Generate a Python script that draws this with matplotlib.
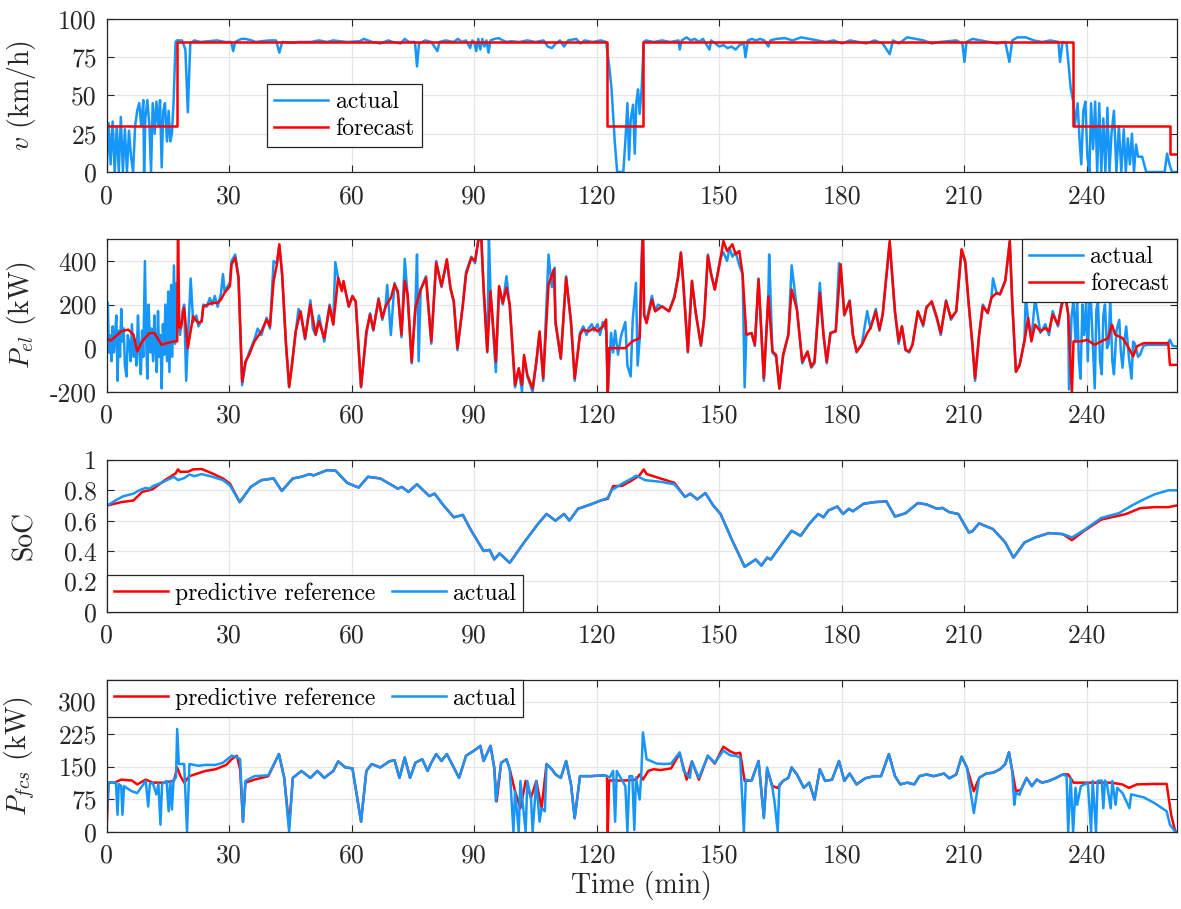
import matplotlib.pyplot as plt
import numpy as np

plt.rcParams["font.family"] = "serif"
plt.rcParams["font.serif"] = ["cmr10"]
plt.rcParams["mathtext.fontset"] = "cm"
plt.rcParams["axes.formatter.use_mathtext"] = True
plt.rcParams["font.size"] = 15

BLUE = "#1796fa"
RED = "#ff0000"
EDGE = "#262626"

# ---------------- data (time in min) ----------------
# speed forecast: step values starting at each time
v_fc_t = [0, 17.3, 122.4, 131.3, 236.6, 260.4, 262]
v_fc = [30, 85, 30, 85, 30, 12, 12]

v_act = [
    (0, 0), (0.5, 32), (1.0, 5), (1.5, 33), (2.0, 0), (2.5, 30), (3.0, 0), (3.5, 36),
    (4.0, 0), (4.5, 28), (5.0, 0), (5.5, 27), (6.0, 10), (6.5, 0), (7.0, 30), (7.5, 40),
    (8.0, 45), (8.5, 30), (9.0, 47), (9.2, 0), (9.5, 35), (10.0, 47), (10.5, 30), (10.9, 0),
    (11.3, 45), (11.8, 25), (12.2, 46), (12.7, 30), (13.1, 47), (13.5, 3), (13.9, 40),
    (14.3, 45), (14.8, 20), (15.2, 40), (15.6, 20), (16.0, 25), (16.4, 45), (16.9, 85),
    (17.2, 86), (18.5, 86), (19.3, 80), (19.9, 39), (20.5, 84), (21.5, 86), (23, 85),
    (25, 85.5), (27, 86), (29, 85), (30.5, 85), (31, 79), (31.5, 85), (33, 87), (34, 87),
    (35.5, 86), (36.5, 85), (38, 85.5), (40, 86), (41.5, 86), (42.3, 78), (43, 85),
    (45, 84.5), (47, 85), (50, 85), (52, 86), (54, 85), (55.5, 86), (57, 85.5), (59, 85),
    (62, 85.5), (63, 87), (65, 85), (67, 84), (69, 86), (70, 85), (72, 84), (73, 87),
    (74, 85), (75.5, 85), (76, 69), (76.5, 84), (78, 86), (79.5, 85), (81, 79), (81.5, 85),
    (83, 86), (85, 85), (86, 87), (87, 85), (88, 86), (89, 81), (89.5, 86), (90, 85),
    (90.5, 79), (91, 87), (91.5, 80), (92, 87), (92.5, 82), (93, 86), (93.5, 78), (94, 86),
    (95, 87), (96, 87.5), (97, 86), (98, 85), (99, 85.5), (101, 85), (103, 86), (105, 85),
    (107, 86), (108, 82), (109, 81), (110, 84), (111, 86), (112, 82), (113, 86), (115, 87),
    (116, 84), (117, 86), (119, 85), (121, 86), (122.3, 85), (123, 70), (123.6, 55),
    (124.4, 20), (125, 0), (126.5, 0), (127, 20), (127.5, 45), (127.9, 8), (128.3, 34),
    (128.9, 44), (129.3, 12), (129.7, 46), (130.1, 54), (130.5, 38), (131.0, 55),
    (131.5, 85), (132, 86), (134, 85), (136, 86), (138, 85), (140, 86), (140.3, 80),
    (140.8, 86), (142, 88), (143, 86), (144, 87), (145, 85), (146, 87), (147.6, 80),
    (148, 86), (149, 84), (150, 82), (151, 83), (152, 81), (153, 82), (154, 80), (155, 83),
    (156, 84), (156.4, 75), (157, 86), (158, 87), (159, 86), (160, 87), (161, 86),
    (162, 82), (162.5, 86), (164, 87), (166, 87.5), (168, 86), (170, 88), (172, 87),
    (174, 86), (176, 85), (178, 86), (180, 84), (182, 86), (184, 85), (186, 84), (188, 86),
    (190, 84), (191.7, 77), (192.5, 86), (194, 84), (196, 88), (198, 87), (200, 86),
    (202, 84), (204, 85), (206, 85.5), (208, 86), (209.5, 84), (210, 72), (210.5, 85),
    (212, 87), (214, 86), (216, 85), (218, 84), (220, 85), (221, 72), (221.7, 86),
    (223, 88), (225, 88), (227, 86), (229, 85), (231, 86), (233, 85), (233.4, 72),
    (234, 85), (235, 84), (235.5, 70), (236, 55), (236.7, 45), (237, 30), (237.7, 45),
    (238.2, 20), (238.6, 5), (239.1, 40), (239.6, 46), (240.1, 10), (240.6, 0), (241, 45),
    (241.5, 15), (242, 46), (242.5, 0), (243, 45), (243.5, 0), (244, 35), (244.5, 0),
    (245, 42), (245.5, 0), (246, 25), (246.6, 40), (247.2, 0), (247.8, 30), (248.4, 0),
    (249, 28), (249.5, 0), (250, 22), (250.5, 5), (251, 25), (251.5, 0), (252, 18),
    (252.5, 10), (253.5, 10), (254.5, 0), (259, 0), (259.6, 12), (260.2, 5), (260.8, 0),
    (262, 0),
]

pel_fc = [
    (0.2, 43), (1.0, 34), (3.6, 77), (5.3, 85), (6.6, 62), (7.5, -15), (8.7, 31),
    (10.5, 69), (11.7, 69), (13.5, 15), (14.7, 23), (16.5, 31), (17.3, 31), (17.5, 560),
    (17.8, 100), (18.2, 92), (19.0, 185), (19.9, 0), (21.2, 146), (22.5, 115), (23.3, 123),
    (23.7, 192), (25.9, 208), (27.2, 208), (28.0, 223), (28.9, 254), (30.2, 285),
    (30.6, 385), (31.5, 415), (32.3, 323), (33.2, -154), (34.0, -62), (34.9, -31),
    (36.2, 31), (37.9, 77), (39.2, 131), (40.0, 100), (40.9, 308), (41.7, 385), (42.3, 477),
    (43.0, 338), (43.9, 31), (44.7, -177), (45.4, -77), (46.3, 77), (47.5, 169), (48.6, 46),
    (49.9, 200), (51.2, 62), (52.0, 123), (53.3, 46), (54.6, 192), (55.5, 108), (56.7, 323),
    (57.6, 262), (58.0, 308), (59.3, 192), (60.2, 238), (61.0, 215), (62.3, -177),
    (63.6, 77), (64.5, 154), (65.3, 85), (66.6, 223), (67.5, 138), (68.3, 192), (69.6, 231),
    (70.5, 292), (71.3, 262), (72.2, 62), (73.0, 308), (73.7, 246), (74.7, -62),
    (75.6, 185), (76.9, 269), (78.2, 323), (79.5, 31), (80.7, 392), (82.0, 285), (83.3, 408),
    (84.2, 277), (85.0, 215), (85.9, 0), (87.2, 192), (88.0, 338), (89.3, 415), (90.2, 400),
    (91.0, 492), (91.7, 520), (92.3, 277), (93.2, -15), (94.0, 262), (95.3, -62),
    (96.1, 285), (97.0, 208), (97.9, 277), (98.7, 200), (100.0, -169), (100.9, -92),
    (101.7, -169), (102.2, -31), (103.0, -123), (104.3, -185), (105.2, -62), (106.0, 77),
    (106.9, -138), (108.2, 292), (109.5, 362), (109.9, 123), (111.2, -46), (112.5, 323),
    (113.7, 123), (114.6, -138), (115.9, 62), (116.7, 85), (118.0, 77), (119.3, 92),
    (120.2, 77), (121.5, 100), (122.3, 131), (122.7, -210), (123.0, 0), (127.0, 0),
    (128.7, 31), (130.5, 46), (131.3, 560), (131.6, 150), (132.2, 115), (133.5, 223),
    (134.3, 169), (136.0, 192), (137.7, 169), (139.0, 231), (139.9, 323), (140.6, 438),
    (141.2, 292), (142.3, -15), (143.3, 308), (144.2, 169), (145.5, 15), (146.3, 138),
    (147.2, 423), (148.0, 338), (148.9, 269), (150.2, 400), (151.0, 492), (151.9, 446),
    (153.2, 477), (154.0, 431), (154.9, 446), (155.7, 338), (156.6, 62), (157.9, 69),
    (158.7, 15), (159.6, 315), (160.9, -138), (162.0, 238), (163.0, -15), (163.9, -31),
    (164.7, -185), (165.6, -31), (166.9, 62), (167.7, 269), (169.0, 177), (170.3, -62),
    (171.6, -15), (172.5, -85), (173.3, -62), (174.6, 254), (175.5, 62), (176.3, -62),
    (177.2, 69), (178.5, 77), (179.7, 385), (180.6, 154), (181.9, 215), (182.7, 62),
    (183.6, -15), (184.9, 15), (186.2, 69), (187.0, 92), (188.3, 169), (189.2, 85),
    (190.0, 154), (191.7, 492), (193.0, 169), (193.9, 31), (194.7, 100), (195.6, -8),
    (196.5, -15), (197.3, 15), (198.6, 169), (199.9, 108), (200.7, 185), (202.0, 215),
    (203.3, 138), (204.2, 69), (205.5, 215), (206.7, 138), (208.0, 169), (209.3, 454),
    (210.2, 400), (211.0, 215), (211.9, 31), (212.6, -138), (213.6, 62), (214.5, 192),
    (215.7, 162), (216.6, 231), (217.9, 254), (218.7, 246), (220.0, 308), (221.1, 492),
    (221.7, 215), (222.6, -108), (223.5, -77), (224.7, 31), (225.6, 138), (226.4, 31),
    (227.3, 108), (228.6, 77), (229.8, 92), (230.7, 77), (231.6, 154), (232.9, 108),
    (233.7, 185), (234.6, 254), (235.4, 154), (236.3, -205), (236.7, 31), (238.4, 31),
    (240.1, 38), (241.8, 15), (243.5, 31), (245.2, 46), (246.1, 108), (246.9, 62),
    (248.7, 46), (250.0, 8), (251.3, -38), (252.2, 8), (253.9, 23), (256.5, 23),
    (259.9, 23), (260.3, -77), (262.0, -77),
]

pel_act = [
    (0.0, 40), (0.3, 210), (0.6, -20), (0.9, 60), (1.2, -60), (1.5, 100), (1.8, -20),
    (2.1, 70), (2.4, 150), (2.7, -150), (3.0, 80), (3.3, -40), (3.6, 180), (3.9, 30),
    (4.2, 90), (4.5, -80), (4.9, -130), (5.2, 60), (5.6, 20), (5.9, -60), (6.2, 110),
    (6.6, -40), (7.0, 40), (7.3, -80), (7.7, 150), (8.0, -10), (8.4, -120), (8.7, 80),
    (9.0, -40), (9.4, 400), (9.7, 40), (10.0, -140), (10.3, 200), (10.7, -20), (11.0, 90),
    (11.4, -60), (11.7, 150), (12.0, 0), (12.3, -110), (12.6, 170), (12.9, -40), (13.2, 60),
    (13.5, -185), (13.8, 110), (14.1, -30), (14.4, 200), (14.8, -60), (15.1, 260),
    (15.4, -110), (15.8, 290), (16.1, -40), (16.5, 380), (16.8, 20), (17.2, 300),
    (17.6, 120), (18.0, 60), (18.6, 170), (19.0, 200), (19.5, -150), (19.9, 30),
    (20.6, 320), (21.2, 120), (22.0, 150), (22.5, 100), (23.3, 130), (23.7, 200),
    (24.5, 190), (25.3, 230), (25.9, 200), (26.5, 240), (27.2, 190), (28.0, 250),
    (28.5, 340), (28.9, 260), (29.5, 280), (30.2, 300), (30.6, 400), (31.5, 430),
    (32.3, 330), (33.2, -170), (34.0, -70), (34.9, -20), (36.2, 40), (37.0, 90), (37.9, 60),
    (39.2, 140), (40.0, 90), (40.9, 400), (41.7, 390), (42.3, 470), (43.0, 330), (43.9, 20),
    (44.7, -180), (45.4, -70), (46.3, 70), (47.0, 180), (47.5, 160), (48.6, 40), (49.9, 220),
    (50.5, 90), (51.2, 60), (52.0, 150), (53.3, 30), (54.6, 200), (55.5, 110), (56.0, 395),
    (56.7, 320), (57.6, 270), (58.0, 300), (59.3, 190), (60.2, 240), (61.0, 210),
    (62.3, -180), (63.6, 60), (64.5, 160), (65.3, 80), (66.6, 230), (67.5, 130), (68.3, 190),
    (68.7, 290), (69.6, 60), (70.5, 300), (71.3, 250), (72.2, 50), (73.0, 410), (73.7, 240),
    (74.7, -70), (75.6, 190), (76.0, 430), (76.4, -60), (76.9, 270), (78.2, 330), (79.5, 20),
    (80.7, 400), (82.0, 280), (83.3, 400), (84.2, 270), (85.0, 210), (85.9, -10),
    (87.2, 200), (88.0, 350), (89.3, 420), (90.2, 390), (91.0, 500), (91.7, 530),
    (92.3, 270), (93.2, -20), (93.6, 520), (94.0, 250), (95.3, -110), (96.1, 280),
    (97.0, 200), (97.9, 330), (98.7, 190), (100.0, -180), (100.9, -100), (101.7, -200),
    (102.2, -40), (103.0, -130), (104.3, -200), (105.2, -70), (106.0, 70), (106.9, -150),
    (108.2, 430), (109.0, 280), (109.7, 370), (109.9, 110), (111.2, -50), (112.5, 330),
    (113.7, 110), (114.6, -150), (115.9, 70), (116.7, 100), (117.5, 60), (118.0, 90),
    (118.8, 110), (119.3, 80), (120.2, 110), (120.8, 60), (121.5, 120), (122.3, 80),
    (122.7, -210), (123.5, 70), (124.0, -20), (124.5, 80), (125.2, -30), (126.0, 60),
    (127.0, 120), (127.5, -80), (128.3, -130), (128.8, 130), (129.6, 300), (130.0, -80),
    (130.5, 40), (130.9, 380), (131.3, 560), (131.6, 150), (132.2, 130), (133.5, 240),
    (134.3, 170), (135.0, 200), (136.0, 190), (137.7, 170), (139.0, 240), (139.9, 330),
    (140.6, 440), (141.2, 300), (142.3, -20), (143.3, 310), (144.2, 160), (145.5, 10),
    (146.3, 140), (147.2, 430), (148.0, 340), (148.9, 270), (150.2, 410), (151.0, 440),
    (151.9, 400), (152.5, 460), (153.2, 420), (154.0, 440), (154.9, 380), (155.7, 340),
    (156.2, -180), (156.6, 60), (157.9, 70), (158.7, 10), (159.6, 320), (160.9, -150),
    (162.0, 240), (162.2, 430), (163.0, -20), (163.9, -40), (164.7, -185), (165.6, -40),
    (166.9, 60), (167.7, 380), (169.0, 180), (170.3, -70), (171.6, -20), (172.5, -90),
    (173.3, -70), (174.6, 300), (175.5, 60), (176.3, -70), (177.2, 70), (178.5, 80),
    (179.3, 390), (179.7, 370), (180.6, 150), (181.9, 220), (182.7, 60), (183.6, -20),
    (184.9, 20), (186.2, 170), (187.0, 90), (188.3, 180), (189.2, 80), (190.0, 160),
    (191.7, 480), (193.0, 160), (193.9, 20), (194.7, 100), (195.6, -10), (196.5, -20),
    (197.3, 20), (198.6, 170), (199.9, 100), (200.7, 190), (202.0, 210), (203.3, 130),
    (204.2, 60), (205.5, 220), (206.7, 130), (208.0, 170), (209.3, 450), (210.2, 390),
    (211.0, 210), (211.9, 20), (212.6, -150), (213.6, 60), (214.5, 200), (215.7, 160),
    (216.6, 230), (217.0, 320), (217.9, 250), (218.7, 250), (220.0, 310), (221.1, 490),
    (221.7, 210), (222.6, -110), (223.5, -80), (224.7, 40), (225.0, 240), (225.6, 130),
    (226.4, 40), (227.3, 230), (228.6, 70), (229.8, 110), (230.7, 60), (231.6, 170),
    (232.9, 100), (233.7, 200), (234.6, 260), (235.4, 160), (235.6, -190), (236.2, 140),
    (236.7, 220), (237.2, 30), (237.6, 220), (238.0, -50), (238.4, -140), (238.9, 200),
    (239.3, 60), (239.8, 210), (240.2, -60), (240.6, 220), (241.0, 200), (241.5, -20),
    (241.9, -185), (242.3, 180), (242.7, 210), (243.2, -60), (243.6, -120), (244.0, 150),
    (244.4, 200), (244.9, 0), (245.3, 20), (245.7, 220), (246.2, -60), (246.6, -120),
    (247.2, 80), (247.9, 130), (248.3, -20), (248.7, -90), (249.2, 40), (249.6, 100),
    (250.3, -50), (250.9, -140), (251.3, 30), (251.7, 20), (252.5, -40), (253.0, -30),
    (253.8, 10), (254.7, 15), (256.0, 15), (258.0, 15), (259.5, 15), (260.3, 38),
    (261.0, 10), (262.0, 8),
]

# SoC: stretches where reference and actual coincide are shared
soc_mid1 = [
    (35.3, 0.822), (37.9, 0.867), (40.9, 0.878), (42.9, 0.796), (45.6, 0.878), (47.7, 0.889),
    (49.7, 0.907), (50.7, 0.898), (54.0, 0.933), (56.1, 0.929), (58.9, 0.849), (61.7, 0.818),
    (64.0, 0.889), (67.0, 0.878), (69.2, 0.844), (71.3, 0.811), (72.3, 0.822), (73.9, 0.789),
    (76.0, 0.84), (79.0, 0.762), (80.3, 0.778), (82.5, 0.70), (85.0, 0.622), (87.2, 0.638),
    (89.3, 0.533), (92.3, 0.40), (93.8, 0.407), (94.9, 0.344), (96.2, 0.384), (98.7, 0.322),
    (102.2, 0.456), (105.6, 0.578), (107.7, 0.644), (109.9, 0.60), (112.0, 0.644),
    (113.3, 0.60), (115.4, 0.678), (118.5, 0.707), (121.0, 0.733),
]
soc_mid2 = [
    (141.6, 0.756), (142.9, 0.778), (144.6, 0.74), (146.6, 0.782), (148.5, 0.70),
    (150.3, 0.644), (153.2, 0.467), (156.2, 0.296), (158.9, 0.344), (160.3, 0.304),
    (161.7, 0.356), (162.6, 0.344), (165.6, 0.456), (167.7, 0.533), (169.9, 0.50),
    (172.0, 0.578), (174.2, 0.644), (175.5, 0.622), (176.7, 0.667), (178.9, 0.693),
    (180.3, 0.644), (181.7, 0.678), (182.7, 0.662), (185.3, 0.711), (187.9, 0.722),
    (190.9, 0.727), (193.0, 0.627), (195.6, 0.649), (198.6, 0.716), (200.7, 0.707),
    (203.3, 0.678), (204.6, 0.684), (206.3, 0.656), (208.5, 0.644), (211.1, 0.522),
    (211.9, 0.529), (213.6, 0.582), (217.0, 0.544), (220.0, 0.456), (222.0, 0.356),
    (224.7, 0.456), (227.3, 0.489), (230.7, 0.518), (234.1, 0.511),
]
soc_ref_a = [
    (0.2, 0.70), (3.6, 0.722), (6.6, 0.733), (8.7, 0.789), (11.3, 0.807), (14.3, 0.867),
    (16.9, 0.911), (17.5, 0.938), (18.0, 0.922), (19.9, 0.922), (21.2, 0.938), (23.3, 0.94),
    (25.9, 0.911), (28.5, 0.878), (30.2, 0.844), (32.6, 0.722),
]
soc_ref_b = [
    (122.7, 0.744), (124.0, 0.827), (126.2, 0.829), (128.7, 0.867), (130.5, 0.90),
    (131.5, 0.938), (132.2, 0.907), (135.6, 0.878), (139.0, 0.849),
]
soc_ref_c = [
    (236.3, 0.471), (239.3, 0.533), (243.5, 0.607), (247.8, 0.633), (249.6, 0.644),
    (253.0, 0.682), (256.5, 0.689), (259.9, 0.689), (262.0, 0.70),
]
soc_act_a = [
    (0.2, 0.70), (2.0, 0.73), (4.0, 0.76), (6.6, 0.778), (8.0, 0.80), (9.6, 0.816),
    (10.5, 0.81), (11.3, 0.827), (13.5, 0.85), (15.0, 0.87), (16.5, 0.889), (17.5, 0.867),
    (19.0, 0.88), (20.3, 0.904), (21.5, 0.893), (23.3, 0.907), (25.9, 0.889), (28.5, 0.867),
    (30.2, 0.833), (32.6, 0.722),
]
soc_act_b = [
    (122.7, 0.75), (123.6, 0.80), (126.2, 0.844), (128.7, 0.88), (129.6, 0.896),
    (130.9, 0.88), (131.8, 0.867), (135.6, 0.856), (139.0, 0.84),
]
soc_act_c = [
    (236.3, 0.489), (239.3, 0.538), (243.5, 0.618), (247.8, 0.649), (251.0, 0.70),
    (253.5, 0.735), (256.5, 0.773), (259.9, 0.80), (262.0, 0.80),
]

# fuel cell power
pfcs_mid1 = [
    (47.7, 140), (49.9, 124), (51.6, 140), (53.3, 124), (55.5, 140), (56.7, 162), (58.5, 148),
    (60.2, 146), (62.3, 23), (63.6, 140), (64.9, 156), (67.0, 148), (69.2, 162), (70.5, 165),
    (71.7, 124), (73.0, 171), (74.3, 124), (75.6, 159), (77.3, 167), (78.6, 140), (79.5, 159),
    (80.7, 179), (82.0, 163), (83.3, 179), (85.0, 148), (86.3, 124), (88.0, 175), (89.3, 183),
    (90.6, 191), (91.5, 198), (92.3, 163), (94.0, 198), (94.9, 148),
]
pfcs_mid2 = [
    (109.0, 144), (109.9, 132), (111.2, 124), (112.5, 163), (113.7, 109), (114.6, 31),
    (115.9, 128), (118.5, 128), (121.9, 130),
]
pfcs_mid3 = [
    (166.9, 124), (167.7, 148), (169.0, 132), (170.7, 101), (172.0, 113), (173.3, 74),
    (174.6, 144), (175.9, 117), (177.6, 120), (179.3, 163), (180.6, 117), (181.9, 134),
    (183.6, 109), (185.7, 123), (187.9, 128), (189.6, 128), (191.5, 179), (193.0, 128),
    (194.3, 109), (196.0, 113), (197.7, 109), (199.0, 128), (200.7, 132), (202.5, 128),
    (205.0, 134), (206.3, 123), (208.0, 132), (209.3, 173), (210.6, 148),
]
pfcs_mid4 = [
    (213.6, 124), (215.3, 134), (217.0, 136), (218.7, 144), (220.0, 156), (220.9, 183),
    (221.7, 140),
]
pfcs_mid5 = [
    (225.2, 124), (226.5, 105), (227.7, 120), (229.0, 113), (230.7, 117), (232.4, 124),
    (234.1, 132),
]
pfcs_ref_a = [
    (0.0, 0), (0.5, 113), (1.9, 113), (3.6, 120), (6.2, 118), (7.5, 109), (9.6, 120),
    (11.3, 113), (13.9, 113), (16.5, 117), (17.3, 148), (18.0, 130), (19.0, 113),
    (20.3, 128), (21.6, 132), (24.2, 140), (26.7, 144), (29.3, 154), (30.6, 167),
    (31.9, 175), (32.7, 144), (33.4, 23), (34.0, 113), (36.2, 120), (39.6, 128),
    (42.2, 179), (43.5, 124), (44.7, 12), (45.6, 124),
]
pfcs_ref_b = [
    (95.5, 70), (96.6, 159), (97.9, 167), (98.7, 144), (100.0, 93), (101.3, 54),
    (102.6, 117), (103.9, 78), (105.2, 117), (106.5, 54), (107.7, 156),
]
pfcs_ref_c = [
    (122.5, 128), (122.7, 0), (123.0, 118), (127.0, 118), (129.6, 120), (130.5, 132),
    (131.3, 120), (132.6, 140), (133.9, 144), (135.6, 142), (138.2, 146), (140.3, 181),
    (142.0, 120), (143.3, 162), (145.0, 120), (147.2, 175), (148.9, 157), (151.0, 196),
    (152.7, 185), (154.0, 180), (155.1, 182), (156.2, 117), (157.9, 118), (159.6, 163),
    (160.9, 35), (161.7, 144), (163.0, 105), (164.3, 101), (165.6, 117),
]
pfcs_ref_d = [(212.3, 93)]
pfcs_ref_e = [(222.6, 93), (223.9, 97)]
pfcs_ref_f = [
    (235.4, 132), (236.7, 113), (239.3, 113), (242.7, 113), (246.0, 113), (248.6, 109),
    (250.3, 101), (252.2, 109), (256.5, 110), (259.5, 110), (260.6, 39), (261.6, 0),
    (262.0, 0),
]
pfcs_act_a = [
    (0.0, 31), (0.5, 113), (2.3, 113), (2.7, 39), (3.0, 110), (3.6, 105), (3.9, 39),
    (4.3, 105), (4.9, 101), (6.2, 93), (7.5, 89), (8.7, 105), (9.6, 117), (10.2, 58),
    (10.6, 110), (11.3, 113), (12.2, 86), (12.7, 110), (13.2, 16), (13.6, 110), (14.7, 117),
    (15.2, 47), (15.6, 117), (16.0, 51), (16.4, 120), (17.0, 125), (17.3, 237), (17.7, 156),
    (19.0, 156), (19.7, 0), (20.3, 156), (22.5, 152), (24.2, 154), (26.7, 154), (28.5, 159),
    (30.6, 175), (31.9, 172), (32.7, 167), (33.4, 23), (34.0, 117), (36.2, 128),
    (39.6, 130), (42.2, 179), (43.5, 124), (44.7, 0), (45.6, 124),
]
pfcs_act_b = [
    (95.3, 70), (96.6, 159), (97.9, 167), (98.7, 144), (99.6, 0), (100.0, 93), (100.9, 0),
    (101.3, 117), (102.6, 0), (103.0, 117), (103.9, 78), (104.3, 0), (105.2, 117),
    (106.0, 23), (106.5, 54), (107.3, 47), (107.7, 156),
]
pfcs_act_c = [
    (123.2, 125), (124.0, 140), (124.5, 23), (124.9, 140), (127.0, 105), (127.5, 0),
    (128.0, 128), (128.7, 128), (129.2, 4), (129.6, 125), (130.5, 74), (130.9, 132),
    (131.3, 229), (132.2, 167), (133.5, 162), (134.7, 157), (136.5, 156), (138.2, 157),
    (140.3, 183), (141.3, 140), (142.8, 124), (143.3, 162), (145.0, 124), (147.2, 175),
    (148.9, 159), (151.0, 187), (152.7, 176), (154.0, 175), (155.1, 171), (156.0, 0),
    (156.5, 120), (157.9, 117), (159.6, 163), (160.9, 31), (161.7, 148), (163.0, 101),
    (163.5, 70), (164.3, 0), (164.7, 109), (165.6, 117),
]
pfcs_act_d = [(212.3, 43)]
pfcs_act_e = [(222.2, 62), (222.6, 90), (223.5, 85), (223.9, 97)]
pfcs_act_f = [
    (235.0, 128), (235.4, 0), (236.0, 124), (236.6, 0), (237.2, 101), (237.6, 62),
    (238.5, 105), (240.2, 113), (241.0, 0), (241.4, 117), (242.2, 0), (242.6, 117),
    (243.6, 118), (244.0, 54), (244.4, 118), (244.9, 109), (245.8, 54), (246.2, 117),
    (247.0, 62), (247.4, 101), (248.7, 89), (250.4, 54), (250.8, 86), (253.9, 79),
    (256.5, 66), (259.5, 47), (260.3, 16), (261.6, 0), (262.0, 0),
]

soc_ref = soc_ref_a + soc_mid1 + soc_ref_b + soc_mid2 + soc_ref_c
soc_act = soc_act_a + soc_mid1 + soc_act_b + soc_mid2 + soc_act_c
pfcs_ref = (pfcs_ref_a + pfcs_mid1 + pfcs_ref_b + pfcs_mid2 + pfcs_ref_c + pfcs_mid3
            + pfcs_ref_d + pfcs_mid4 + pfcs_ref_e + pfcs_mid5 + pfcs_ref_f)
pfcs_act = (pfcs_act_a + pfcs_mid1 + pfcs_act_b + pfcs_mid2 + pfcs_act_c + pfcs_mid3
            + pfcs_act_d + pfcs_mid4 + pfcs_act_e + pfcs_mid5 + pfcs_act_f)

x_ticks = [0, 30, 60, 90, 120, 150, 180, 210, 240]
t_max = 262

TICK_FS = 18.5
LEG_FS = 17
LAB_FS = 20


def xy(pairs):
    a = np.array(pairs, dtype=float)
    return a[:, 0], a[:, 1]


def style_axes(ax, yticks, yticklabels, ylim, ylabel):
    ax.set_xlim(0, t_max)
    ax.set_ylim(*ylim)
    ax.set_xticks(x_ticks)
    ax.set_xticklabels([str(t) for t in x_ticks])
    ax.set_yticks(yticks)
    ax.set_yticklabels(yticklabels)
    ax.grid(True, color="#e6e6e6", linewidth=0.9)
    ax.set_axisbelow(True)
    ax.tick_params(direction="in", length=5, width=0.8, color=EDGE,
                   top=True, right=True, labelsize=TICK_FS, labelcolor=EDGE)
    ax.tick_params(axis="y", pad=7)
    ax.tick_params(axis="x", pad=9)
    for s in ax.spines.values():
        s.set_color(EDGE)
        s.set_linewidth(0.9)
    ax.set_ylabel(ylabel, fontsize=LAB_FS, color=EDGE)
    # label anchor is its right edge (rotated baseline side)
    ax.yaxis.set_label_coords(-0.064, 0.5)


def add_legend(ax, **kw):
    leg = ax.legend(fontsize=LEG_FS, fancybox=False, framealpha=1, edgecolor=EDGE,
                    handlelength=2.3, handletextpad=0.3, borderpad=0.3,
                    labelspacing=0.2, columnspacing=0.7, **kw)
    leg.get_frame().set_linewidth(0.9)
    return leg


fig = plt.figure(figsize=(11.81, 9.09), dpi=100)
left, width = 0.0902, 0.9063
ax1 = fig.add_axes([left, 0.8108, width, 0.1683])
ax2 = fig.add_axes([left, 0.5691, width, 0.1677])
ax3 = fig.add_axes([left, 0.3271, width, 0.1669])
ax4 = fig.add_axes([left, 0.0851, width, 0.1669])

lw = 1.8

# speed
t, v = xy(v_act)
ax1.plot(t, v, color=BLUE, lw=lw, label="actual")
ax1.plot(v_fc_t, v_fc, color=RED, lw=lw, drawstyle="steps-post", label="forecast")
style_axes(ax1, [0, 25, 50, 75, 100], ["0", "25", "50", "75", "100"], (0, 100),
           r"$v$ (km/h)")
add_legend(ax1, loc="lower left", bbox_to_anchor=(0.15, 0.163), borderaxespad=0)

# electric power
t, p = xy(pel_act)
ax2.plot(t, p, color=BLUE, lw=lw, label="actual")
t, p = xy(pel_fc)
ax2.plot(t, p, color=RED, lw=lw, label="forecast")
style_axes(ax2, [-200, 0, 200, 400], ["-200", "0", "200", "400"], (-200, 500),
           r"$P_{el}$ (kW)")
add_legend(ax2, loc="upper right", borderaxespad=0)

# state of charge
t, s = xy(soc_ref)
ax3.plot(t, s, color=RED, lw=lw, label="predictive reference")
t, s = xy(soc_act)
ax3.plot(t, s, color=BLUE, lw=lw, label="actual")
style_axes(ax3, [0, 0.2, 0.4, 0.6, 0.8, 1.0], ["0", "0.2", "0.4", "0.6", "0.8", "1"],
           (0, 1), "SoC")
add_legend(ax3, loc="lower left", ncol=2, borderaxespad=0)

# fuel cell power
t, p = xy(pfcs_ref)
ax4.plot(t, p, color=RED, lw=lw, label="predictive reference")
t, p = xy(pfcs_act)
ax4.plot(t, p, color=BLUE, lw=lw, label="actual")
style_axes(ax4, [0, 75, 150, 225, 300], ["0", "75", "150", "225", "300"], (0, 350),
           r"$P_{fcs}$ (kW)")
add_legend(ax4, loc="upper left", ncol=2, borderaxespad=0)
ax4.set_xlabel("Time (min)", fontsize=LAB_FS, color=EDGE, labelpad=2)

fig.savefig("out.png", dpi=100)
